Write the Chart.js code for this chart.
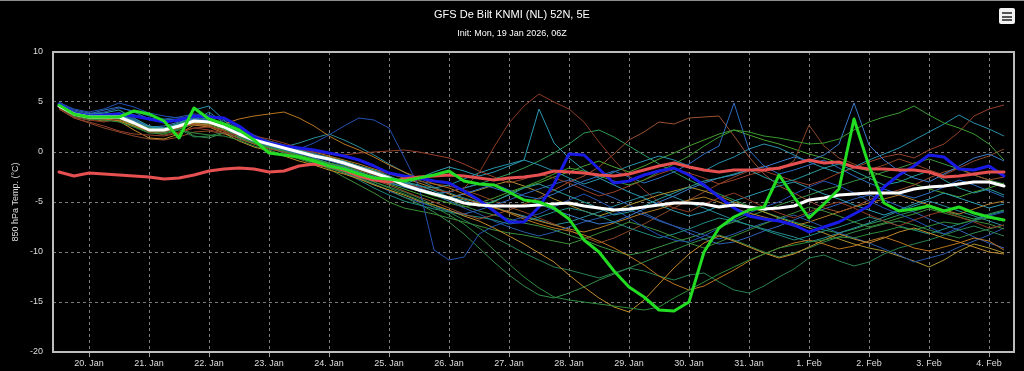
<!DOCTYPE html>
<html>
<head>
<meta charset="utf-8">
<script src="https://cdn.jsdelivr.net/npm/chart.js@4.4.1/dist/chart.umd.min.js"></script>
<style>
  html, body { margin: 0; padding: 0; background: #000; }
  #wrap { position: relative; width: 1024px; height: 371px; background: #000; overflow: hidden; }
  #topline { position: absolute; left: 0; top: 0; width: 1024px; height: 1px; background: #8c8c8c; }
  .ttl { position: absolute; left: 0; width: 1024px; text-align: center; color: #fff; font-family: "Liberation Sans", Arial, sans-serif; }
  #title { top: 8px; font-size: 11px; line-height: 13px; }
  #subtitle { top: 28px; font-size: 9px; line-height: 11px; }
  #menu { position: absolute; left: 999px; top: 8px; width: 16px; height: 16px; background: #f2f2f2; border-radius: 2px; }
  #menu span { position: absolute; left: 3px; width: 10px; height: 2px; background: #555; }
  canvas { position: absolute; left: 0; top: 0; }
</style>
</head>
<body>
<div id="wrap">
  <canvas id="chart" width="1024" height="371"></canvas>
  <div id="topline"></div>
  <div id="title" class="ttl">GFS De Bilt KNMI (NL) 52N, 5E</div>
  <div id="subtitle" class="ttl">Init: Mon, 19 Jan 2026, 06Z</div>
  <div id="menu"><span style="top:4px"></span><span style="top:7.5px"></span><span style="top:11px"></span></div>
</div>
<script>
'use strict';

// forecast hours after init (19 Jan 06Z), 6-hourly
const leadHours = [6,12,18,24,30,36,42,48,54,60,66,72,78,84,90,96,
  102,108,114,120,126,132,138,144,150,156,162,168,174,180,186,192,
  198,204,210,216,222,228,234,240,246,252,258,264,270,276,282,288,
  294,300,306,312,318,324,330,336,342,348,354,360,366,372,378,384];
const hoursBeforeFirstDay = 18; // 19 Jan 06Z -> 20 Jan 00Z

const tickLabels = ['20. Jan','21. Jan','22. Jan','23. Jan','24. Jan','25. Jan','26. Jan','27. Jan',
  '28. Jan','29. Jan','30. Jan','31. Jan','1. Feb','2. Feb','3. Feb','4. Feb'];

//thick lines
const operational = [4.7,3.8,3.5,3.5,3.5,4.1,3.8,3.1,1.4,4.4,3.3,2.8,2.2,1.2,-0.1,-0.3,
  -0.5,-0.9,-1.4,-1.7,-2.2,-2.6,-2.7,-2.9,-2.6,-2.3,-1.9,-2.9,-3.2,-3.3,-4.0,-4.8,
  -5.0,-5.6,-6.7,-8.8,-10.0,-11.9,-13.5,-14.5,-15.8,-15.9,-15.0,-10.0,-7.6,-6.5,-5.8,-5.5,
  -2.3,-4.5,-6.6,-5.2,-3.7,3.3,-1.4,-5.1,-5.9,-5.7,-5.4,-5.9,-5.5,-6.1,-6.5,-6.8];
const control = [4.8,3.9,3.6,3.7,3.8,3.6,3.3,3.0,3.2,3.6,3.5,3.4,2.6,1.5,0.9,0.6,
  0.4,0.2,-0.1,-0.4,-0.8,-1.4,-2.1,-2.4,-2.6,-2.9,-3.1,-3.9,-4.8,-5.9,-7.0,-7.0,
  -5.5,-3.2,-0.2,-0.3,-1.7,-3.1,-2.9,-2.3,-1.9,-1.6,-2.3,-3.3,-4.5,-5.6,-6.4,-6.7,
  -6.9,-7.3,-8.0,-7.5,-7.0,-6.2,-5.4,-3.5,-2.3,-1.4,-0.3,-0.5,-1.7,-1.8,-1.4,-2.4];
const ensMean = [4.6,3.8,3.5,3.5,3.5,2.9,2.2,2.2,2.6,3.1,3.0,2.5,1.8,1.2,0.8,0.4,
  0.0,-0.4,-0.7,-1.1,-1.6,-2.1,-2.6,-3.3,-3.8,-4.2,-4.6,-5.1,-5.3,-5.4,-5.4,-5.4,
  -5.3,-5.2,-5.1,-5.4,-5.6,-5.8,-5.7,-5.5,-5.3,-5.1,-5.1,-5.2,-5.5,-5.3,-5.5,-5.7,
  -5.6,-5.4,-4.8,-4.6,-4.3,-4.2,-4.1,-4.1,-4.1,-3.7,-3.5,-3.4,-3.2,-3.0,-3.0,-3.4];
const climate = [-2.0,-2.4,-2.1,-2.2,-2.3,-2.4,-2.5,-2.7,-2.6,-2.3,-1.9,-1.7,-1.6,-1.7,-2.0,-1.9,
  -1.4,-1.2,-1.4,-1.8,-2.4,-2.8,-3.0,-2.7,-2.5,-2.4,-2.3,-2.4,-2.6,-2.8,-2.6,-2.5,
  -2.3,-1.9,-2.0,-2.1,-2.3,-2.4,-2.2,-1.8,-1.4,-1.1,-1.5,-1.8,-2.0,-1.8,-1.8,-1.8,
  -1.6,-1.2,-0.8,-1.1,-1.0,-1.5,-1.7,-1.7,-1.8,-1.8,-2.0,-2.5,-2.4,-2.2,-2.0,-2.0];

// ensemble members
const m01 = [4.5,3.6,3.3,3.2,3.0,2.5,1.9,1.8,2.2,1.9,1.7,1.6,1.2,0.6,0.2,-0.3,
  -0.7,-1.2,-1.6,-2.0,-2.5,-3.0,-3.6,-4.2,-4.8,-5.5,-6.3,-7.2,-8.4,-9.8,-11.2,-12.5,
  -13.6,-14.5,-14.8,-15.0,-15.2,-15.4,-15.6,-15.8,-15.5,-14.6,-13.8,-13.0,-12.2,-11.5,-10.8,-10.2,
  -9.6,-9.3,-9.0,-8.8,-8.5,-8.6,-8.2,-7.9,-7.5,-7.8,-7.4,-7.0,-7.2,-6.8,-6.6,-6.9];
const m02 = [4.8,4.0,3.7,3.9,4.2,3.4,2.6,2.4,2.9,3.5,3.3,2.7,2.0,1.4,0.9,0.6,
  0.2,-0.2,-0.6,-0.9,-1.4,-1.8,-2.4,-3.0,-3.3,-3.9,-4.5,-4.8,-5.4,-4.9,-4.3,-3.6,
  -3.2,-3.8,-4.4,-5.0,-5.6,-6.3,-6.0,-5.4,-4.7,-4.1,-3.5,-2.9,-2.6,-2.2,-1.8,-2.5,
  -3.1,-2.8,-2.2,-1.6,-1.2,-1.9,-2.6,-3.3,-3.0,-2.4,-1.9,-2.8,-3.6,-4.1,-3.7,-4.3];
const m03 = [4.9,4.3,4.0,4.3,4.9,4.5,3.9,3.6,3.4,3.6,3.4,2.8,2.0,1.3,0.7,0.3,
  0.3,0.9,1.7,2.6,3.4,3.2,2.4,-0.5,-3.5,-9.8,-10.8,-10.5,-8.2,-7.4,-6.9,-6.5,
  -6.2,-5.5,-4.8,-4.2,-4.9,-5.7,-6.6,-7.5,-8.3,-8.8,-9.0,-8.4,-7.6,-6.8,-6.1,-5.5,
  -5.0,-4.2,-3.5,-2.9,-3.4,-4.1,-4.9,-5.6,-6.2,-6.8,-7.5,-8.2,-7.6,-6.9,-6.4,-6.0];
const m04 = [4.4,3.5,3.2,3.0,3.3,2.9,2.0,1.7,2.0,2.4,2.2,1.9,1.7,1.6,1.3,0.9,
  0.4,-0.2,-0.8,-1.2,-1.8,-2.3,-2.7,-3.2,-3.5,-3.8,-4.0,-3.6,-2.1,0.5,2.9,4.6,
  5.8,5.0,4.3,3.0,1.0,-0.8,-2.4,-3.8,-5.0,-5.6,-6.0,-5.2,-4.6,-4.1,-4.8,-5.5,
  -6.1,-6.6,-6.0,-5.4,-5.0,-5.6,-6.3,-6.9,-7.4,-6.8,-6.3,-5.9,-6.5,-7.0,-7.6,-7.3];
const m05 = [4.6,3.8,3.4,3.3,3.1,2.6,2.1,2.3,2.5,2.9,2.7,2.8,3.3,3.6,3.8,4.0,
  3.4,2.6,1.6,0.8,0.2,-0.5,-1.3,-2.0,-2.6,-3.2,-3.6,-4.2,-4.9,-5.5,-6.1,-6.7,
  -7.2,-7.6,-7.9,-8.3,-8.9,-9.6,-10.4,-11.3,-12.4,-13.2,-13.8,-13.4,-12.6,-11.8,-10.9,-10.2,
  -9.6,-9.1,-8.8,-9.2,-9.7,-9.4,-8.9,-8.5,-9.0,-9.6,-9.9,-9.5,-9.1,-8.6,-8.9,-9.8];
const m06 = [4.7,3.9,3.5,3.4,3.6,3.0,2.4,2.1,2.5,3.0,2.9,2.3,1.5,0.9,0.5,0.1,
  -0.3,-0.7,-1.1,-1.4,-1.9,-2.3,-2.8,-3.4,-3.9,-4.4,-4.7,-5.1,-5.4,-5.0,-4.2,-3.5,
  -2.9,-2.2,-1.6,-1.9,-2.4,-2.9,-3.3,-2.8,-2.0,-1.2,-0.4,0.6,1.5,2.2,2.0,1.6,
  1.4,1.1,0.8,0.9,1.3,2.2,3.0,3.5,3.9,4.6,3.7,2.9,2.4,1.8,0.8,-0.8];
const m07 = [4.5,3.9,3.8,4.2,4.5,4.0,3.3,3.0,3.1,3.4,3.1,2.4,1.5,1.0,0.6,0.2,
  -0.2,-0.5,-0.9,-1.3,-1.7,-2.2,-2.7,-3.2,-3.6,-4.1,-4.6,-4.2,-3.7,-3.2,-3.8,-4.4,
  -4.7,-4.2,-3.5,-2.9,-2.4,-1.9,-2.5,-3.1,-2.6,-2.0,-1.2,-0.2,0.6,4.9,0.2,-1.4,
  -2.2,-1.8,-1.3,-0.8,-1.6,-2.4,-3.1,-3.7,-4.2,-4.6,-4.1,-3.5,-2.8,-3.3,-3.9,-4.5];
const m08 = [4.8,4.0,3.6,3.5,3.7,3.1,2.5,2.6,3.0,3.3,3.1,2.6,1.9,1.3,0.8,0.3,
  -0.1,-0.6,-1.1,-1.5,-2.0,-2.6,-3.1,-3.5,-3.9,-4.2,-4.0,-3.6,-3.2,-3.6,-4.1,-4.7,
  -5.2,-5.8,-6.3,-6.8,-7.2,-7.0,-6.4,-5.7,-5.0,-4.4,-3.7,-3.1,-2.6,-2.3,-1.8,-1.5,
  -1.0,-0.5,-0.9,-0.3,0.8,4.9,0.7,-0.8,-1.9,-2.6,-3.0,-2.2,-1.4,-0.6,-0.2,-0.9];
const m09 = [4.3,3.4,3.0,2.6,2.1,1.8,1.7,1.6,1.9,2.4,2.5,2.1,1.5,1.1,0.7,0.5,
  0.2,0.0,-0.2,-0.3,-0.1,0.0,0.1,0.2,0.0,-0.3,-0.6,-1.2,-1.9,-2.5,-3.1,-2.7,
  -2.2,-2.6,-3.1,-3.8,-4.4,-4.0,-3.4,-2.8,-2.2,-1.7,-2.1,-2.6,-3.2,-2.8,-2.3,-1.9,
  -2.4,-2.9,-3.3,-2.8,-2.1,-1.6,-1.0,-0.5,-0.2,-0.6,0.2,0.8,2.0,3.6,4.3,4.7];
const m10 = [4.6,3.7,3.3,3.2,3.4,2.8,2.0,2.0,2.4,2.8,2.6,2.1,1.3,0.8,0.3,0.0,
  -0.5,-1.0,-1.4,-1.8,-2.3,-2.8,-3.3,-3.9,-4.5,-5.0,-5.6,-6.2,-6.7,-6.3,-5.8,-5.2,
  -4.6,-3.8,-3.0,-2.4,-1.5,-0.2,1.2,2.0,3.0,2.8,3.4,3.5,3.6,1.6,-0.5,-2.2,
  -3.4,-4.1,-4.9,-5.6,-6.0,-5.5,-4.8,-4.2,-3.8,-3.3,-2.6,-2.0,-1.6,-2.3,-2.8,-2.5];
const m11 = [4.4,3.6,3.3,3.3,3.1,2.2,1.4,1.3,1.8,2.7,2.5,1.9,1.1,0.5,0.1,-0.4,
  -0.9,-1.3,-1.8,-2.2,-2.7,-3.3,-3.8,-4.3,-4.9,-5.3,-5.8,-6.4,-6.9,-7.6,-8.4,-9.2,
  -10.1,-11.0,-12.3,-13.5,-14.6,-15.5,-16.0,-14.8,-13.2,-11.6,-10.2,-9.1,-8.4,-8.9,-9.5,-10.1,
  -10.6,-10.2,-9.5,-8.8,-8.2,-8.7,-9.1,-8.6,-8.0,-7.6,-8.1,-8.6,-9.0,-9.5,-10.0,-10.2];
const m12 = [4.5,3.5,3.2,3.4,3.5,2.9,2.3,2.0,2.3,1.5,1.6,2.0,1.6,1.0,0.6,0.1,
  -0.4,-0.8,-1.3,-1.8,-2.4,-3.0,-3.5,-4.0,-4.6,-5.3,-6.0,-6.8,-7.6,-8.5,-9.3,-10.1,
  -10.8,-11.5,-11.8,-12.2,-12.6,-12.1,-11.6,-11.9,-12.4,-12.8,-12.3,-12.1,-13.0,-13.8,-14.1,-13.4,
  -12.5,-11.7,-10.6,-10.3,-10.9,-11.4,-11.0,-10.2,-9.6,-9.2,-8.8,-8.3,-7.8,-7.4,-7.9,-8.4];
const m13 = [4.7,3.8,3.6,3.7,3.8,3.2,2.5,2.3,2.7,4.2,4.6,3.2,1.9,1.4,1.0,0.5,
  0.1,-0.3,-0.8,-1.2,-1.6,-2.0,-2.5,-3.1,-3.4,-3.6,-3.3,-2.7,-2.1,-1.6,-1.2,-0.8,
  -1.3,-1.9,-2.6,-3.2,-2.7,-2.0,-1.4,-0.9,-0.4,-0.8,-1.4,-1.9,-1.1,-0.5,0.3,0.8,
  0.4,-0.3,-1.0,-1.6,-2.1,-1.5,-0.8,-0.2,0.4,1.2,2.0,2.8,3.7,2.9,2.3,1.6];
const m14 = [4.6,3.7,3.4,3.3,3.3,2.7,2.1,2.0,2.5,3.1,3.1,2.6,1.9,1.3,0.7,0.2,
  -0.4,-1.0,-1.7,-2.5,-3.3,-4.1,-5.0,-5.6,-5.9,-6.2,-6.6,-7.0,-7.4,-7.8,-8.1,-8.3,
  -8.6,-8.9,-9.2,-8.7,-8.1,-7.6,-7.0,-7.4,-7.9,-8.5,-9.1,-9.6,-9.0,-8.4,-7.8,-7.2,
  -6.6,-6.1,-5.5,-5.9,-6.4,-7.0,-7.5,-7.1,-6.6,-6.2,-5.7,-6.1,-6.5,-6.9,-7.2,-7.7];
const m15 = [4.4,3.5,3.2,3.4,3.6,3.0,2.3,2.3,2.8,3.3,3.2,2.7,2.0,1.4,0.9,0.4,
  0.0,-0.6,-1.3,-2.0,-2.8,-3.6,-4.3,-4.9,-5.3,-5.7,-6.0,-6.3,-6.5,-6.8,-7.2,-7.0,
  -6.5,-6.0,-5.6,-5.9,-6.4,-7.0,-7.6,-8.1,-8.6,-8.2,-7.7,-7.1,-6.6,-6.9,-7.3,-7.8,
  -8.3,-8.8,-8.4,-7.9,-7.5,-7.0,-6.5,-6.9,-7.4,-7.8,-8.2,-7.7,-7.2,-6.8,-6.3,-5.9];
const m16 = [4.9,4.1,3.8,4.0,4.4,4.1,3.6,3.3,3.5,3.8,3.7,3.1,2.4,1.7,1.1,0.7,
  0.3,-0.1,-0.6,-1.0,-1.5,-2.0,-2.5,-3.0,-3.7,-4.3,-4.9,-5.6,-6.2,-6.9,-7.5,-8.0,
  -8.4,-8.0,-7.5,-7.0,-6.6,-6.2,-5.8,-6.3,-6.9,-7.4,-7.8,-8.3,-8.7,-8.2,-7.6,-7.1,
  -6.7,-6.3,-6.9,-7.5,-8.1,-8.6,-9.1,-9.7,-10.3,-11.0,-10.6,-10.2,-9.5,-8.9,-8.3,-7.6];
const m17 = [4.5,3.7,3.3,3.1,3.2,2.7,2.2,2.1,2.4,2.8,2.6,2.2,1.8,1.4,1.1,0.7,
  0.4,0.0,-0.4,-0.8,-1.2,-1.7,-2.1,-2.6,-3.1,-3.6,-4.2,-4.7,-5.1,-5.6,-6.0,-6.5,
  -6.9,-7.3,-7.7,-8.0,-7.6,-7.1,-6.6,-6.1,-5.7,-5.2,-4.8,-4.5,-5.0,-5.6,-6.1,-6.5,
  -6.9,-7.4,-7.0,-6.5,-6.0,-5.5,-5.1,-4.7,-4.3,-4.8,-5.3,-5.8,-6.2,-5.7,-5.2,-4.9];
const m18 = [4.6,3.8,3.4,3.2,3.1,2.5,2.0,2.1,2.5,1.6,1.4,1.9,1.4,0.8,0.4,-0.1,
  -0.6,-1.1,-1.6,-2.1,-2.6,-3.2,-3.8,-4.5,-5.2,-6.0,-7.0,-8.2,-9.6,-11.0,-12.3,-13.4,
  -14.3,-14.6,-14.1,-13.5,-12.8,-12.2,-11.6,-11.0,-10.4,-9.8,-9.2,-8.7,-8.3,-8.8,-9.4,-10.0,
  -10.5,-10.1,-9.6,-9.0,-8.5,-8.0,-7.6,-7.2,-6.9,-7.3,-7.8,-8.2,-8.6,-8.1,-7.7,-7.3];
const m19 = [4.7,3.9,3.5,3.6,3.9,3.7,3.4,3.2,3.3,3.2,3.0,2.4,1.7,1.1,0.7,0.3,
  -0.1,-0.4,-0.8,-1.3,-1.8,-2.4,-2.9,-3.3,-2.6,-2.0,-1.5,-1.9,-2.4,-2.0,-1.4,-0.8,
  4.3,0.9,-0.6,-1.8,-2.6,-3.3,-4.0,-4.6,-5.3,-5.9,-6.4,-6.0,-5.4,-4.9,-4.4,-3.9,
  -3.4,-3.0,-3.6,-4.2,-4.7,-5.3,-5.8,-6.3,-5.8,-5.2,-4.7,-4.1,-4.6,-5.1,-5.6,-5.2];
const m20 = [5.0,4.2,3.9,3.8,3.9,3.3,2.6,2.4,2.7,3.1,3.0,2.5,1.7,1.1,0.5,0.0,
  -0.5,-1.0,-1.5,-2.0,-2.6,-3.2,-3.9,-4.5,-5.0,-5.5,-5.9,-6.2,-5.8,-5.3,-4.8,-4.2,
  -3.7,-3.2,-2.8,-3.4,-4.0,-4.6,-5.3,-6.1,-6.8,-7.4,-8.1,-8.7,-9.2,-9.0,-8.5,-7.9,
  -7.4,-6.8,-6.2,-5.7,-5.2,-4.7,-4.3,-4.8,-5.4,-6.0,-6.7,-7.3,-7.8,-8.5,-9.1,-9.6];
const m21 = [4.5,3.6,3.3,3.3,3.4,2.8,2.2,2.2,2.6,3.0,2.9,2.4,1.7,1.2,0.9,0.6,
  0.2,-0.2,-0.5,-0.9,-1.4,-1.9,-2.4,-3.0,-3.6,-4.1,-4.5,-4.2,-3.8,-3.3,-2.9,-3.4,
  -4.0,-4.7,-5.3,-5.9,-6.4,-5.9,-5.3,-4.8,-4.3,-3.9,-3.5,-3.9,-4.4,-5.0,-5.5,-6.0,
  -6.6,-7.1,-7.6,-8.1,-8.7,-9.2,-9.6,-9.9,-10.4,-10.9,-11.5,-10.8,-9.9,-9.2,-9.6,-10.1];
const m22 = [4.3,3.4,2.9,2.4,2.0,1.6,1.3,1.2,1.5,2.0,2.1,1.8,1.4,1.0,0.7,0.4,
  0.1,-0.3,-0.7,-1.0,-1.4,-1.8,-2.2,-2.6,-2.9,-3.2,-3.4,-3.8,-4.3,-4.9,-5.5,-6.0,
  -6.6,-7.2,-7.8,-8.5,-9.1,-8.6,-7.9,-7.2,-6.4,-5.6,-4.8,-4.0,-3.2,-2.5,-1.9,-1.4,
  -1.8,-0.9,2.7,0.6,-0.6,-1.2,-1.8,-1.3,-0.7,-1.2,-1.8,-2.3,-1.6,-0.9,-0.4,0.3];
const m23 = [4.8,3.9,3.6,3.5,3.6,3.1,2.5,2.4,2.8,3.3,3.3,2.8,2.1,1.5,1.0,0.6,
  0.2,-0.2,-0.6,-1.0,-1.5,-2.1,-2.7,-3.3,-3.8,-4.3,-4.9,-5.4,-5.9,-6.3,-6.7,-7.1,
  -7.4,-7.8,-8.3,-8.8,-9.4,-9.9,-10.3,-10.0,-9.5,-9.0,-8.6,-8.1,-7.5,-7.0,-6.4,-5.9,
  -5.3,-4.8,-4.3,-3.8,-3.4,-2.9,-2.5,-2.0,-1.6,-1.1,-0.7,-1.2,-1.7,-2.3,-2.8,-3.2];
const m24 = [4.6,3.7,3.5,3.5,3.7,3.1,2.4,2.2,2.6,3.1,4.0,2.9,1.8,1.2,0.8,0.5,
  0.9,1.4,1.8,1.2,0.5,-0.3,-1.2,-2.0,-2.8,-3.5,-4.1,-4.6,-5.0,-5.5,-6.0,-6.4,
  -6.8,-7.3,-7.0,-6.5,-6.0,-5.4,-4.9,-4.4,-4.0,-4.5,-5.1,-5.6,-6.2,-6.8,-7.3,-7.7,
  -8.1,-8.5,-9.0,-8.6,-8.1,-7.6,-7.1,-6.5,-5.9,-5.4,-4.9,-5.4,-5.9,-6.4,-6.9,-7.4];
const m25 = [4.4,3.6,3.4,3.5,3.3,2.6,2.0,1.9,2.3,2.8,2.7,2.3,1.5,0.9,0.4,0.0,
  -0.4,-0.8,-1.2,-1.6,-2.1,-2.6,-3.2,-3.7,-4.2,-4.7,-5.1,-5.5,-5.1,-4.6,-4.0,-3.5,
  -3.1,-2.5,-2.0,-1.4,-0.9,-1.5,-2.0,-1.4,-0.7,-0.1,0.6,1.2,1.8,2.2,1.7,1.2,
  0.8,0.3,-0.2,-0.6,-1.1,-1.5,-1.9,-2.4,-2.8,-3.2,-3.7,-4.1,-4.5,-4.0,-3.6,-3.1];
const m26 = [4.7,3.8,3.5,3.4,3.5,2.9,2.3,2.1,2.4,2.9,2.9,2.4,1.6,1.1,0.6,0.2,
  -0.3,-0.7,-1.1,-1.5,-2.0,-2.5,-3.0,-3.5,-3.9,-4.2,-4.0,-3.6,-3.2,-2.7,-2.2,-1.6,
  -0.9,-0.1,0.8,1.9,2.2,1.5,0.6,-0.3,-1.2,-2.0,-2.8,-3.5,-4.2,-4.8,-5.4,-6.0,
  -6.5,-7.0,-7.4,-7.8,-8.1,-7.7,-7.2,-6.8,-6.3,-5.9,-5.5,-5.9,-6.3,-6.7,-6.2,-5.8];

const members = [m01,m02,m03,m04,m05,m06,m07,m08,m09,m10,m11,m12,m13,
  m14,m15,m16,m17,m18,m19,m20,m21,m22,m23,m24,m25,m26];
const memberColors = ['#2e8b3c','#2a9a9a','#2450b0','#8c3a24','#b8741e','#3a9a30','#2c6cc0',
  '#3a78c8','#96402a','#9a5030','#c08a2a','#2a8050','#2890a8','#3c8c38','#1f8a80','#2858a8',
  '#b07a28','#358a48','#2a98b0','#3060b8','#a89030','#8a4628','#3a9040','#2a8a98','#48a030','#2d9a55'];

const fontFam = '"Liberation Sans", Arial, sans-serif';

// turn a value list into x/y points (x = hours since 20 Jan 00Z)
function toPoints(values) {
  return values.map(function(v, i) {
    return { x: leadHours[i] - hoursBeforeFirstDay, y: v };
  });
}

function thick(values, color, order) {
  return {
    data: toPoints(values), borderColor: color, borderWidth: 3, order: order,
    borderJoinStyle: 'round', borderCapStyle: 'round', pointRadius: 0, tension: 0
  };
}

let datasets = [
  thick(operational, '#22dd22', 0),
  thick(ensMean, '#ffffff', 1),
  thick(climate, '#e65050', 2),
  thick(control, '#1a1ae6', 3)
];
members.forEach(function(m, i) {
  datasets.push({
    data: toPoints(m), borderColor: memberColors[i], borderWidth: 1, order: 10,
    pointRadius: 0, tension: 0
  });
});

// plot frame
const frame = {
  id: 'frame',
  afterDraw(chart) {
    const a = chart.chartArea, c = chart.ctx;
    c.save();
    c.strokeStyle = '#bdbdbd';
    c.lineWidth = 2;
    c.strokeRect(a.left, a.top, a.right - a.left, a.bottom - a.top);
    c.restore();
  }
};

new Chart(document.getElementById('chart'), {
  type: 'line',
  data: { datasets: datasets },
  options: {
    responsive: false,
    animation: false,
    layout: { padding: { top: 52, right: 10, left: 0, bottom: 0 } },
    plugins: { legend: { display: false }, tooltip: { enabled: false } },
    scales: {
      x: {
        type: 'linear',
        min: -14.4,
        max: 370,
        afterBuildTicks(scale) {
          scale.ticks = tickLabels.map(function(_, i) { return { value: i * 24 }; });
        },
        afterFit(scale) { scale.height = 19; },
        ticks: {
          autoSkip: false, maxRotation: 0, padding: 1, color: '#dddddd',
          font: { family: fontFam, size: 9 },
          callback: function(v) { return tickLabels[Math.round(v / 24)]; }
        },
        grid: { color: '#7c7c7c', lineWidth: 1, tickLength: 5, tickColor: '#9a9a9a' },
        border: { display: false, dash: [3, 3] }
      },
      y: {
        min: -20,
        max: 10,
        afterFit(scale) { scale.width = 53; },
        ticks: { stepSize: 5, padding: 10, color: '#dddddd', font: { family: fontFam, size: 9 } },
        grid: { color: '#7c7c7c', lineWidth: 1, drawTicks: false },
        border: { display: false, dash: [3, 3] },
        title: {
          display: true, text: '850 hPa Temp. (°C)', color: '#dddddd',
          font: { family: fontFam, size: 9 }, padding: { top: 10, bottom: 0 }
        }
      }
    }
  },
  plugins: [frame]
});
</script>
</body>
</html>
